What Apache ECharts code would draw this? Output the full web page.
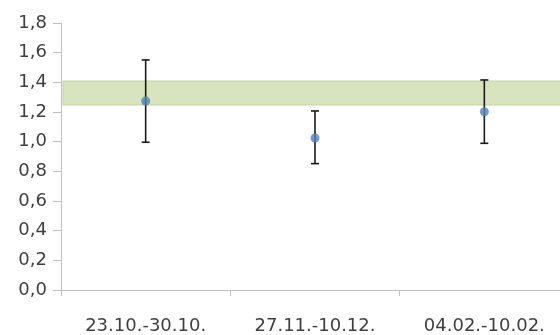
<!DOCTYPE html>
<html>
<head>
<meta charset="utf-8">
<script src="https://cdn.jsdelivr.net/npm/echarts@6/dist/echarts.min.js"></script>
<style>html,body{margin:0;padding:0;background:#fff}#c{width:560px;height:335px}</style>
</head>
<body>
<div id="c"></div>
<script>
var categories = ['23.10.-30.10.', '27.11.-10.12.', '04.02.-10.02.'];
var means = [1.274, 1.025, 1.202];
var lower = [0.996, 0.852, 0.989];
var upper = [1.551, 1.207, 1.416];
var bandLow = 1.247;
var bandHigh = 1.409;
var yMin = 0, yMax = 1.8, yStep = 0.2;

var chart = echarts.init(document.getElementById('c'));
var errData = categories.map(function (c, i) { return [i, lower[i], upper[i]]; });
var font = '"DejaVu Sans", sans-serif';

chart.setOption({
  animation: false,
  backgroundColor: '#ffffff',
  grid: { left: 61, top: 23, width: 508, height: 267, outerBoundsMode: 'none', containLabel: false },
  xAxis: {
    type: 'category',
    data: categories,
    boundaryGap: true,
    axisLine: { lineStyle: { color: '#bfbfbf', width: 1 } },
    axisTick: { show: true, length: 6, lineStyle: { color: '#bfbfbf' } },
    axisLabel: { color: '#404040', fontSize: 18, fontFamily: font, margin: 27 },
    splitLine: { show: false }
  },
  yAxis: {
    type: 'value',
    min: yMin, max: yMax, interval: yStep,
    axisLine: { show: true, lineStyle: { color: '#bfbfbf', width: 1 } },
    axisTick: { show: true, length: 8, lineStyle: { color: '#bfbfbf' } },
    axisLabel: {
      color: '#404040', fontSize: 18, fontFamily: font, margin: 14,
      formatter: function (v) { return v.toFixed(1).replace('.', ','); }
    },
    splitLine: { show: false }
  },
  series: [
    {
      type: 'custom',
      z: 3,
      renderItem: function (params, api) {
        var x = api.value(0);
        var lo = api.coord([x, api.value(1)]);
        var hi = api.coord([x, api.value(2)]);
        var w = 4;
        var st = { stroke: '#1a1a1a', lineWidth: 1.6 };
        return {
          type: 'group',
          children: [
            { type: 'line', shape: { x1: lo[0], y1: lo[1], x2: hi[0], y2: hi[1] }, style: st },
            { type: 'line', shape: { x1: lo[0] - w, y1: lo[1], x2: lo[0] + w, y2: lo[1] }, style: st },
            { type: 'line', shape: { x1: hi[0] - w, y1: hi[1], x2: hi[0] + w, y2: hi[1] }, style: st }
          ]
        };
      },
      data: errData,
      markArea: {
        silent: true,
        itemStyle: { color: '#d7e4bd', borderColor: '#b9cf8f', borderWidth: 0.8 },
        data: [[{ yAxis: bandLow, x: 63 }, { yAxis: bandHigh, x: 575 }]]
      }
    },
    {
      type: 'scatter',
      z: 4,
      symbol: 'circle',
      symbolSize: 9,
      itemStyle: { color: '#4f81bd' },
      data: means
    }
  ]
});
</script>
</body>
</html>
